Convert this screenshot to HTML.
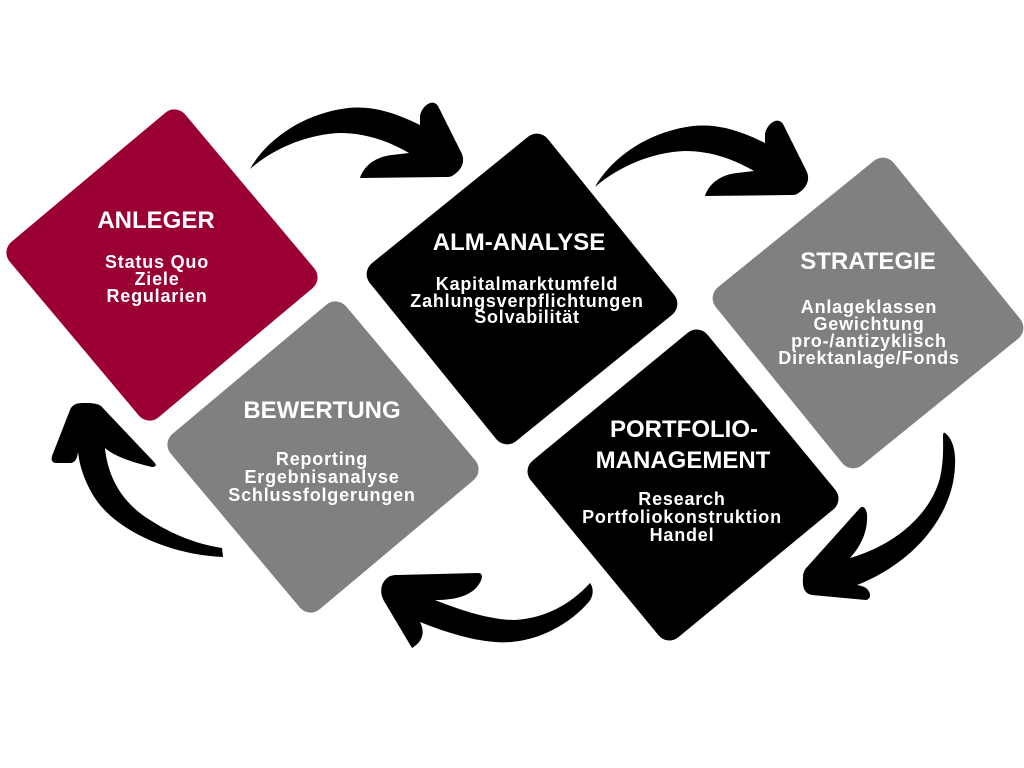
<!DOCTYPE html>
<html>
<head>
<meta charset="utf-8">
<style>
  html, body { margin: 0; padding: 0; background: #ffffff; }
  body { width: 1024px; height: 768px; overflow: hidden; }
  svg { display: block; }
  .t { font-family: "Liberation Sans", Arial, sans-serif; font-weight: bold; font-size: 24px; fill: #ffffff; text-anchor: middle; }
  .s { font-family: "Liberation Sans", Arial, sans-serif; font-weight: bold; font-size: 18px; fill: #ffffff; text-anchor: middle; letter-spacing: 0.8px; }
</style>
</head>
<body>
<svg width="1024" height="768" viewBox="0 0 1024 768" xmlns="http://www.w3.org/2000/svg">
  <rect x="0" y="0" width="1024" height="768" fill="#ffffff"/>

  <!-- Diamonds -->
  <rect x="47.5" y="150.5" width="229" height="229" rx="14" fill="#9a0036" transform="rotate(50 162 265)"/>
  <rect x="407.5" y="174.5" width="229" height="229" rx="14" fill="#000000" transform="rotate(51 522 289)"/>
  <rect x="753.5" y="198.5" width="229" height="229" rx="14" fill="#808080" transform="rotate(51 868 313)"/>
  <rect x="208.5" y="342.5" width="229" height="229" rx="14" fill="#808080" transform="rotate(50 323 457)"/>
  <rect x="568.5" y="370.5" width="229" height="229" rx="14" fill="#000000" transform="rotate(50.5 683 485)"/>

  <!-- Arrows -->
  <g fill="#000000">
    <!-- Arrow 2 (ALM -> STRATEGIE) -->
    <path id="a2" d="M 595 187
      C 610 160, 645 132, 693 126
      C 720 123, 745 133, 765 143
      L 765 134
      C 766 128, 770 123, 775 121
      C 778 120, 781 121, 783 124
      L 806 170
      C 810 177, 809 187, 797 194
      C 795 195, 793 195, 790 195
      L 705 196
      C 708 186, 718 175, 737 173
      L 754 171
      C 735 160, 712 151, 685 151
      C 655 152, 620 165, 595 187 Z"/>
    <!-- Arrow 1 (ANLEGER -> ALM) -->
    <path transform="translate(-345 -18)" d="M 595 187
      C 610 160, 645 132, 693 126
      C 720 123, 745 133, 765 143
      L 765 134
      C 766 128, 770 123, 775 121
      C 778 120, 781 121, 783 124
      L 806 170
      C 810 177, 809 187, 797 194
      C 795 195, 793 195, 790 195
      L 705 196
      C 708 186, 718 175, 737 173
      L 754 171
      C 735 160, 712 151, 685 151
      C 655 152, 620 165, 595 187 Z"/>
    <!-- Arrow 3 (STRATEGIE -> PORTFOLIO) -->
    <path d="M 945 433
      C 952 438, 956 450, 955 465
      C 954 510, 920 560, 857 585
      C 862 586, 866 587, 868 590
      C 871 594, 871 599, 866 600
      L 812 595
      C 805 594, 802 588, 803 578
      C 803 572, 805 569, 808 566
      L 860 508
      C 863 505, 866 508, 867 514
      C 868 530, 862 545, 850 558
      C 895 545, 930 515, 940 478
      C 944 460, 943 445, 943 436
      C 943 433, 944 432, 945 433 Z"/>
    <!-- Arrow 4 (PORTFOLIO -> BEWERTUNG) -->
    <path d="M 590 583
      C 594 588, 594 597, 587 604
      C 565 628, 530 645, 495 642
      C 470 640, 445 632, 420 622
      C 424 630, 425 640, 412 648
      L 384 601
      C 380 594, 380 585, 386 579
      C 389 576, 392 575, 397 575
      L 478 573
      C 484 573, 483 580, 476 588
      C 468 596, 455 600, 435 600
      C 460 610, 490 620, 515 620
      C 545 618, 570 605, 590 583 Z"/>
    <!-- Arrow 5 (BEWERTUNG -> ANLEGER) -->
    <path d="M 223 557
      C 175 555, 125 535, 100 505
      C 88 490, 80 470, 78 452
      C 77 458, 76 462, 71 463
      L 56 463
      C 52 463, 51 460, 52 456
      L 70 410
      C 72 405, 76 403, 83 403
      C 90 403, 97 403, 101 406
      L 154 462
      C 157 465, 156 467, 152 467
      C 135 463, 115 457, 105 448
      C 108 480, 125 505, 150 520
      C 170 533, 195 544, 222 548
      Z"/>
  </g>

  <!-- ANLEGER -->
  <text class="t" x="156" y="228">ANLEGER</text>
  <text class="s" x="157" y="268">Status Quo</text>
  <text class="s" x="157" y="285">Ziele</text>
  <text class="s" x="157" y="302">Regularien</text>

  <!-- ALM-ANALYSE -->
  <text class="t" x="519" y="250">ALM-ANALYSE</text>
  <text class="s" x="527" y="290">Kapitalmarktumfeld</text>
  <text class="s" x="527" y="307">Zahlungsverpflichtungen</text>
  <text class="s" x="527" y="323">Solvabilität</text>

  <!-- STRATEGIE -->
  <text class="t" x="868" y="269">STRATEGIE</text>
  <text class="s" x="869" y="313">Anlageklassen</text>
  <text class="s" x="869" y="330">Gewichtung</text>
  <text class="s" x="869" y="347">pro-/antizyklisch</text>
  <text class="s" x="869" y="364">Direktanlage/Fonds</text>

  <!-- BEWERTUNG -->
  <text class="t" x="322" y="418">BEWERTUNG</text>
  <text class="s" x="322" y="465">Reporting</text>
  <text class="s" x="322" y="483">Ergebnisanalyse</text>
  <text class="s" x="322" y="501">Schlussfolgerungen</text>

  <!-- PORTFOLIO-MANAGEMENT -->
  <text class="t" x="684" y="437">PORTFOLIO-</text>
  <text class="t" x="683" y="468">MANAGEMENT</text>
  <text class="s" x="682" y="505">Research</text>
  <text class="s" x="682" y="523">Portfoliokonstruktion</text>
  <text class="s" x="682" y="541">Handel</text>
</svg>
</body>
</html>
